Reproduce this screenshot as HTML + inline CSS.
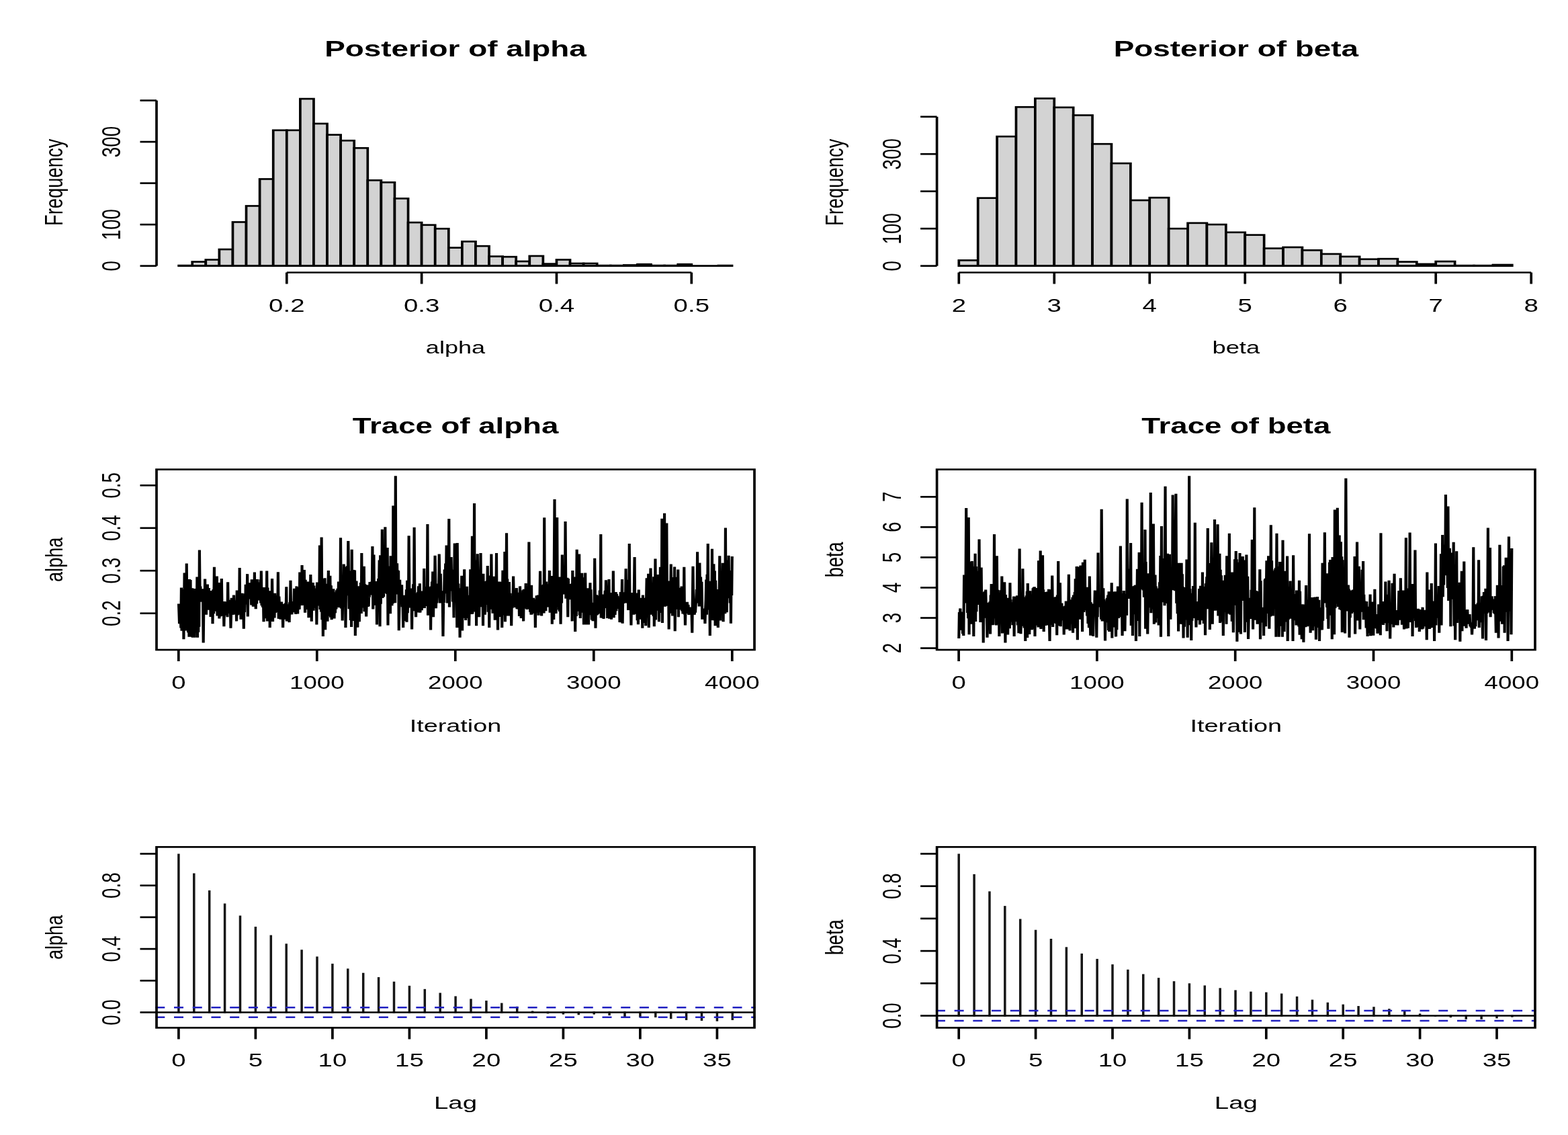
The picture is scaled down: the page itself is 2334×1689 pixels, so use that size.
<!DOCTYPE html>
<html lang="en">
<head>
<meta charset="utf-8">
<title>MCMC diagnostics: posterior, trace and autocorrelation of alpha and beta</title>
<style>
html,body{margin:0;padding:0;background:#fff;}
body{width:2334px;height:1689px;overflow:hidden;}
svg{display:block;}
text{font-family:"Liberation Sans",sans-serif;fill:#000;}
</style>
</head>
<body>
<svg width="2334" height="1689" viewBox="0 0 2334 1689">
<rect width="2334" height="1689" fill="#fff"/>
<g transform="scale(4.8625 3.51875)"><g stroke-linecap="butt">
<rect x="54.732" y="112.28" width="4.13" height="0.175" fill="#d3d3d3" stroke="#000" stroke-width="0.76"/>
<rect x="58.862" y="110.706" width="4.13" height="1.749" fill="#d3d3d3" stroke="#000" stroke-width="0.76"/>
<rect x="62.992" y="109.831" width="4.13" height="2.624" fill="#d3d3d3" stroke="#000" stroke-width="0.76"/>
<rect x="67.123" y="105.458" width="4.13" height="6.997" fill="#d3d3d3" stroke="#000" stroke-width="0.76"/>
<rect x="71.253" y="93.913" width="4.13" height="18.542" fill="#d3d3d3" stroke="#000" stroke-width="0.76"/>
<rect x="75.383" y="87.091" width="4.13" height="25.363" fill="#d3d3d3" stroke="#000" stroke-width="0.76"/>
<rect x="79.513" y="75.721" width="4.13" height="36.733" fill="#d3d3d3" stroke="#000" stroke-width="0.76"/>
<rect x="83.644" y="55.081" width="4.13" height="57.374" fill="#d3d3d3" stroke="#000" stroke-width="0.76"/>
<rect x="87.774" y="55.081" width="4.13" height="57.374" fill="#d3d3d3" stroke="#000" stroke-width="0.76"/>
<rect x="91.904" y="41.787" width="4.13" height="70.668" fill="#d3d3d3" stroke="#000" stroke-width="0.76"/>
<rect x="96.034" y="52.282" width="4.13" height="60.173" fill="#d3d3d3" stroke="#000" stroke-width="0.76"/>
<rect x="100.165" y="57.005" width="4.13" height="55.45" fill="#d3d3d3" stroke="#000" stroke-width="0.76"/>
<rect x="104.295" y="59.454" width="4.13" height="53.001" fill="#d3d3d3" stroke="#000" stroke-width="0.76"/>
<rect x="108.425" y="62.602" width="4.13" height="49.852" fill="#d3d3d3" stroke="#000" stroke-width="0.76"/>
<rect x="112.555" y="76.246" width="4.13" height="36.208" fill="#d3d3d3" stroke="#000" stroke-width="0.76"/>
<rect x="116.686" y="77.121" width="4.13" height="35.334" fill="#d3d3d3" stroke="#000" stroke-width="0.76"/>
<rect x="120.816" y="83.943" width="4.13" height="28.512" fill="#d3d3d3" stroke="#000" stroke-width="0.76"/>
<rect x="124.946" y="94.088" width="4.13" height="18.367" fill="#d3d3d3" stroke="#000" stroke-width="0.76"/>
<rect x="129.076" y="95.138" width="4.13" height="17.317" fill="#d3d3d3" stroke="#000" stroke-width="0.76"/>
<rect x="133.207" y="96.712" width="4.13" height="15.743" fill="#d3d3d3" stroke="#000" stroke-width="0.76"/>
<rect x="137.337" y="104.758" width="4.13" height="7.696" fill="#d3d3d3" stroke="#000" stroke-width="0.76"/>
<rect x="141.467" y="102.134" width="4.13" height="10.32" fill="#d3d3d3" stroke="#000" stroke-width="0.76"/>
<rect x="145.597" y="104.059" width="4.13" height="8.396" fill="#d3d3d3" stroke="#000" stroke-width="0.76"/>
<rect x="149.728" y="108.432" width="4.13" height="4.023" fill="#d3d3d3" stroke="#000" stroke-width="0.76"/>
<rect x="153.858" y="108.606" width="4.13" height="3.848" fill="#d3d3d3" stroke="#000" stroke-width="0.76"/>
<rect x="157.988" y="110.531" width="4.13" height="1.924" fill="#d3d3d3" stroke="#000" stroke-width="0.76"/>
<rect x="162.118" y="108.257" width="4.13" height="4.198" fill="#d3d3d3" stroke="#000" stroke-width="0.76"/>
<rect x="166.249" y="111.58" width="4.13" height="0.875" fill="#d3d3d3" stroke="#000" stroke-width="0.76"/>
<rect x="170.379" y="109.831" width="4.13" height="2.624" fill="#d3d3d3" stroke="#000" stroke-width="0.76"/>
<rect x="174.509" y="111.405" width="4.13" height="1.05" fill="#d3d3d3" stroke="#000" stroke-width="0.76"/>
<rect x="178.639" y="111.405" width="4.13" height="1.05" fill="#d3d3d3" stroke="#000" stroke-width="0.76"/>
<rect x="182.769" y="112.28" width="4.13" height="0.175" fill="#d3d3d3" stroke="#000" stroke-width="0.76"/>
<rect x="186.9" y="112.28" width="4.13" height="0.175" fill="#d3d3d3" stroke="#000" stroke-width="0.76"/>
<rect x="191.03" y="112.105" width="4.13" height="0.35" fill="#d3d3d3" stroke="#000" stroke-width="0.76"/>
<rect x="195.16" y="111.755" width="4.13" height="0.7" fill="#d3d3d3" stroke="#000" stroke-width="0.76"/>
<rect x="199.29" y="112.28" width="4.13" height="0.175" fill="#d3d3d3" stroke="#000" stroke-width="0.76"/>
<rect x="203.421" y="112.28" width="4.13" height="0.175" fill="#d3d3d3" stroke="#000" stroke-width="0.76"/>
<rect x="207.551" y="111.755" width="4.13" height="0.7" fill="#d3d3d3" stroke="#000" stroke-width="0.76"/>
<rect x="219.942" y="112.28" width="4.13" height="0.175" fill="#d3d3d3" stroke="#000" stroke-width="0.76"/>
<line x1="54.732" y1="112.455" x2="224.072" y2="112.455" stroke="#000" stroke-width="0.76"/>
<line x1="87.774" y1="115.24" x2="211.681" y2="115.24" stroke="#000" stroke-width="0.76"/>
<line x1="87.774" y1="115.24" x2="87.774" y2="120.071" stroke="#000" stroke-width="0.76"/>
<text transform="translate(87.774 131.837)" font-size="7.9" text-anchor="middle">0.2</text>
<line x1="129.076" y1="115.24" x2="129.076" y2="120.071" stroke="#000" stroke-width="0.76"/>
<text transform="translate(129.076 131.837)" font-size="7.9" text-anchor="middle">0.3</text>
<line x1="170.379" y1="115.24" x2="170.379" y2="120.071" stroke="#000" stroke-width="0.76"/>
<text transform="translate(170.379 131.837)" font-size="7.9" text-anchor="middle">0.4</text>
<line x1="211.681" y1="115.24" x2="211.681" y2="120.071" stroke="#000" stroke-width="0.76"/>
<text transform="translate(211.681 131.837)" font-size="7.9" text-anchor="middle">0.5</text>
<line x1="47.918" y1="112.455" x2="47.918" y2="42.487" stroke="#000" stroke-width="0.76"/>
<line x1="42.879" y1="112.455" x2="47.918" y2="112.455" stroke="#000" stroke-width="0.76"/>
<text transform="translate(36.833 112.455) rotate(-90)" font-size="7.9" text-anchor="middle">0</text>
<line x1="42.879" y1="94.963" x2="47.918" y2="94.963" stroke="#000" stroke-width="0.76"/>
<text transform="translate(36.833 94.963) rotate(-90)" font-size="7.9" text-anchor="middle">100</text>
<line x1="42.879" y1="77.471" x2="47.918" y2="77.471" stroke="#000" stroke-width="0.76"/>
<line x1="42.879" y1="59.979" x2="47.918" y2="59.979" stroke="#000" stroke-width="0.76"/>
<text transform="translate(36.833 59.979) rotate(-90)" font-size="7.9" text-anchor="middle">300</text>
<line x1="42.879" y1="42.487" x2="47.918" y2="42.487" stroke="#000" stroke-width="0.76"/>
<text transform="translate(139.434 149.485) scale(0.94 0.93)" font-size="7.9" text-anchor="middle">alpha</text>
<text transform="translate(19.157 77.115) rotate(-90) scale(0.985 0.945)" font-size="7.9" text-anchor="middle">Frequency</text>
<text transform="translate(139.434 23.815) scale(0.993 0.975)" font-size="9.5" text-anchor="middle" font-weight="bold">Posterior of alpha</text>
<rect x="293.532" y="110.089" width="5.84" height="2.366" fill="#d3d3d3" stroke="#000" stroke-width="0.76"/>
<rect x="299.372" y="83.748" width="5.84" height="28.706" fill="#d3d3d3" stroke="#000" stroke-width="0.76"/>
<rect x="305.212" y="57.724" width="5.84" height="54.731" fill="#d3d3d3" stroke="#000" stroke-width="0.76"/>
<rect x="311.052" y="45.263" width="5.84" height="67.191" fill="#d3d3d3" stroke="#000" stroke-width="0.76"/>
<rect x="316.892" y="41.636" width="5.84" height="70.819" fill="#d3d3d3" stroke="#000" stroke-width="0.76"/>
<rect x="322.732" y="45.421" width="5.84" height="67.034" fill="#d3d3d3" stroke="#000" stroke-width="0.76"/>
<rect x="328.572" y="48.733" width="5.84" height="63.721" fill="#d3d3d3" stroke="#000" stroke-width="0.76"/>
<rect x="334.412" y="60.878" width="5.84" height="51.577" fill="#d3d3d3" stroke="#000" stroke-width="0.76"/>
<rect x="340.252" y="69.08" width="5.84" height="43.375" fill="#d3d3d3" stroke="#000" stroke-width="0.76"/>
<rect x="346.092" y="84.695" width="5.84" height="27.76" fill="#d3d3d3" stroke="#000" stroke-width="0.76"/>
<rect x="351.931" y="83.591" width="5.84" height="28.864" fill="#d3d3d3" stroke="#000" stroke-width="0.76"/>
<rect x="357.771" y="96.682" width="5.84" height="15.773" fill="#d3d3d3" stroke="#000" stroke-width="0.76"/>
<rect x="363.611" y="94.316" width="5.84" height="18.139" fill="#d3d3d3" stroke="#000" stroke-width="0.76"/>
<rect x="369.451" y="94.947" width="5.84" height="17.508" fill="#d3d3d3" stroke="#000" stroke-width="0.76"/>
<rect x="375.291" y="98.259" width="5.84" height="14.195" fill="#d3d3d3" stroke="#000" stroke-width="0.76"/>
<rect x="381.131" y="99.363" width="5.84" height="13.091" fill="#d3d3d3" stroke="#000" stroke-width="0.76"/>
<rect x="386.971" y="105.042" width="5.84" height="7.413" fill="#d3d3d3" stroke="#000" stroke-width="0.76"/>
<rect x="392.811" y="104.568" width="5.84" height="7.886" fill="#d3d3d3" stroke="#000" stroke-width="0.76"/>
<rect x="398.651" y="105.83" width="5.84" height="6.625" fill="#d3d3d3" stroke="#000" stroke-width="0.76"/>
<rect x="404.491" y="107.407" width="5.84" height="5.047" fill="#d3d3d3" stroke="#000" stroke-width="0.76"/>
<rect x="410.331" y="108.512" width="5.84" height="3.943" fill="#d3d3d3" stroke="#000" stroke-width="0.76"/>
<rect x="416.171" y="109.616" width="5.84" height="2.839" fill="#d3d3d3" stroke="#000" stroke-width="0.76"/>
<rect x="422.011" y="109.458" width="5.84" height="2.997" fill="#d3d3d3" stroke="#000" stroke-width="0.76"/>
<rect x="427.851" y="110.72" width="5.84" height="1.735" fill="#d3d3d3" stroke="#000" stroke-width="0.76"/>
<rect x="433.69" y="111.666" width="5.84" height="0.789" fill="#d3d3d3" stroke="#000" stroke-width="0.76"/>
<rect x="439.53" y="110.562" width="5.84" height="1.893" fill="#d3d3d3" stroke="#000" stroke-width="0.76"/>
<rect x="445.37" y="112.297" width="5.84" height="0.158" fill="#d3d3d3" stroke="#000" stroke-width="0.76"/>
<rect x="451.21" y="112.297" width="5.84" height="0.158" fill="#d3d3d3" stroke="#000" stroke-width="0.76"/>
<rect x="457.05" y="111.982" width="5.84" height="0.473" fill="#d3d3d3" stroke="#000" stroke-width="0.76"/>
<line x1="293.532" y1="112.455" x2="462.89" y2="112.455" stroke="#000" stroke-width="0.76"/>
<line x1="293.532" y1="115.24" x2="468.73" y2="115.24" stroke="#000" stroke-width="0.76"/>
<line x1="293.532" y1="115.24" x2="293.532" y2="120.071" stroke="#000" stroke-width="0.76"/>
<text transform="translate(293.532 131.837)" font-size="7.9" text-anchor="middle">2</text>
<line x1="322.732" y1="115.24" x2="322.732" y2="120.071" stroke="#000" stroke-width="0.76"/>
<text transform="translate(322.732 131.837)" font-size="7.9" text-anchor="middle">3</text>
<line x1="351.931" y1="115.24" x2="351.931" y2="120.071" stroke="#000" stroke-width="0.76"/>
<text transform="translate(351.931 131.837)" font-size="7.9" text-anchor="middle">4</text>
<line x1="381.131" y1="115.24" x2="381.131" y2="120.071" stroke="#000" stroke-width="0.76"/>
<text transform="translate(381.131 131.837)" font-size="7.9" text-anchor="middle">5</text>
<line x1="410.331" y1="115.24" x2="410.331" y2="120.071" stroke="#000" stroke-width="0.76"/>
<text transform="translate(410.331 131.837)" font-size="7.9" text-anchor="middle">6</text>
<line x1="439.53" y1="115.24" x2="439.53" y2="120.071" stroke="#000" stroke-width="0.76"/>
<text transform="translate(439.53 131.837)" font-size="7.9" text-anchor="middle">7</text>
<line x1="468.73" y1="115.24" x2="468.73" y2="120.071" stroke="#000" stroke-width="0.76"/>
<text transform="translate(468.73 131.837)" font-size="7.9" text-anchor="middle">8</text>
<line x1="286.807" y1="112.455" x2="286.807" y2="49.364" stroke="#000" stroke-width="0.76"/>
<line x1="281.769" y1="112.455" x2="286.807" y2="112.455" stroke="#000" stroke-width="0.76"/>
<text transform="translate(275.722 112.455) rotate(-90)" font-size="7.9" text-anchor="middle">0</text>
<line x1="281.769" y1="96.682" x2="286.807" y2="96.682" stroke="#000" stroke-width="0.76"/>
<text transform="translate(275.722 96.682) rotate(-90)" font-size="7.9" text-anchor="middle">100</text>
<line x1="281.769" y1="80.909" x2="286.807" y2="80.909" stroke="#000" stroke-width="0.76"/>
<line x1="281.769" y1="65.137" x2="286.807" y2="65.137" stroke="#000" stroke-width="0.76"/>
<text transform="translate(275.722 65.137) rotate(-90)" font-size="7.9" text-anchor="middle">300</text>
<line x1="281.769" y1="49.364" x2="286.807" y2="49.364" stroke="#000" stroke-width="0.76"/>
<text transform="translate(378.365 149.485) scale(0.947 0.94)" font-size="7.9" text-anchor="middle">beta</text>
<text transform="translate(258.046 77.115) rotate(-90) scale(0.985 0.945)" font-size="7.9" text-anchor="middle">Frequency</text>
<text transform="translate(378.365 23.815) scale(0.993 0.975)" font-size="9.5" text-anchor="middle" font-weight="bold">Posterior of beta</text>
<path d="M54.71,255.33 54.92,263.81 55.04,255.95 55.17,262.88 55.26,258.82 55.38,265.59 55.51,248.55 55.64,266.76 55.72,257.60 55.85,264.70 55.93,258.31 56.02,261.01 56.15,249.23 56.23,270.35 56.48,242.31 56.57,266.55 56.70,254.63 56.82,263.60 56.91,254.10 56.99,266.74 57.12,238.30 57.29,265.66 57.42,254.55 57.59,267.46 57.71,256.42 57.88,269.37 58.01,244.97 58.14,260.73 58.31,245.27 58.43,269.36 58.56,250.30 58.69,260.35 58.86,248.72 58.98,269.61 59.15,250.69 59.28,265.91 59.45,248.92 59.58,269.61 59.75,249.15 59.87,267.55 60.04,249.28 60.17,264.72 60.34,243.98 60.47,269.61 60.59,247.26 60.72,267.34 60.81,247.12 60.93,265.08 61.06,232.62 61.23,254.56 61.36,247.99 61.48,254.49 61.61,249.62 61.74,252.90 61.87,249.03 61.99,254.00 62.12,252.23 62.25,271.83 62.42,251.55 62.59,259.36 62.75,244.84 62.88,258.27 63.01,250.84 63.14,259.99 63.26,250.78 63.39,255.17 63.52,247.13 63.60,257.81 63.73,251.40 63.86,256.54 63.94,248.69 64.03,257.94 64.15,253.54 64.28,256.83 64.36,249.78 64.49,260.88 64.58,251.93 64.70,257.93 64.79,249.93 64.87,259.41 65.00,251.37 65.09,263.81 65.25,249.33 65.42,259.52 65.59,239.78 65.72,257.52 65.85,250.87 66.02,257.57 66.14,251.38 66.27,258.57 66.40,243.73 66.53,260.44 66.61,251.95 66.74,257.12 66.82,252.00 66.91,258.77 67.03,249.09 67.12,261.59 67.25,246.38 67.42,260.72 67.54,250.36 67.71,255.16 67.84,244.72 67.97,257.47 68.14,255.39 68.26,260.52 68.43,255.68 68.56,264.92 68.73,254.35 68.86,258.37 68.98,256.39 69.11,259.22 69.24,255.66 69.36,260.22 69.49,254.53 69.62,260.97 69.75,246.20 69.87,257.88 70.00,254.74 70.13,259.48 70.25,253.74 70.38,259.20 70.51,255.97 70.63,265.66 70.89,252.86 71.06,259.97 71.27,254.25 71.44,259.99 71.57,251.64 71.69,257.25 71.82,254.60 71.95,257.51 72.03,254.98 72.16,259.82 72.29,253.95 72.41,262.70 72.54,249.66 72.67,260.20 72.80,251.87 72.96,258.37 73.09,253.13 73.22,259.94 73.35,240.18 73.47,258.74 73.60,252.80 73.73,261.96 73.85,252.29 73.98,259.36 74.11,250.89 74.28,258.61 74.45,253.34 74.62,265.91 74.74,253.30 74.87,258.92 75.00,251.00 75.13,255.63 75.21,247.16 75.34,254.20 75.46,249.93 75.59,253.33 75.72,242.74 75.85,260.73 75.97,249.67 76.10,252.82 76.18,247.41 76.31,252.73 76.44,246.45 76.61,253.36 76.78,246.76 76.95,255.91 77.07,245.04 77.20,255.85 77.37,248.27 77.50,256.56 77.63,246.06 77.79,255.43 77.92,242.00 78.05,253.55 78.18,247.75 78.30,257.52 78.43,246.71 78.60,255.31 78.73,244.97 78.85,253.92 78.98,247.08 79.11,253.95 79.23,247.84 79.32,253.22 79.45,246.26 79.57,253.14 79.70,245.06 79.83,255.05 79.96,241.41 80.12,256.11 80.25,249.95 80.42,256.83 80.55,248.82 80.72,262.95 80.89,248.42 81.01,257.56 81.14,251.34 81.31,261.51 81.44,251.88 81.57,258.03 81.69,241.41 81.82,262.70 81.95,248.54 82.07,262.61 82.24,250.65 82.37,259.02 82.50,249.90 82.62,265.42 82.75,250.72 82.88,259.09 83.05,253.17 83.17,259.33 83.30,244.67 83.51,262.84 83.64,250.97 83.77,257.26 83.90,253.75 84.02,261.34 84.15,250.89 84.28,259.18 84.40,251.82 84.53,258.63 84.66,252.54 84.74,258.94 84.87,252.23 85.00,258.71 85.12,241.91 85.29,261.70 85.42,252.21 85.59,257.67 85.72,254.77 85.89,261.96 86.18,254.47 86.31,261.04 86.48,257.04 86.61,265.42 86.78,255.40 86.90,259.15 87.07,256.61 87.20,260.69 87.37,255.11 87.50,261.93 87.67,248.17 87.79,262.70 87.92,257.02 88.05,259.78 88.17,256.15 88.30,257.74 88.43,255.60 88.56,263.19 88.68,254.72 88.81,257.95 88.94,245.46 89.06,257.62 89.23,255.86 89.36,259.86 89.49,254.35 89.61,258.62 89.78,255.16 89.91,258.96 90.08,248.89 90.21,256.46 90.38,249.95 90.50,259.71 90.80,247.93 90.93,258.71 91.01,248.40 91.14,259.62 91.27,250.91 91.39,257.80 91.52,250.17 91.65,257.67 91.78,242.00 91.94,255.22 92.16,249.58 92.33,256.04 92.45,239.04 92.58,255.96 92.66,246.76 92.79,254.71 92.92,249.93 93.00,254.07 93.13,241.02 93.38,259.12 93.51,245.18 93.64,257.75 93.77,247.34 93.89,253.72 94.02,250.86 94.15,257.31 94.27,245.95 94.49,261.21 94.61,250.60 94.74,255.50 94.83,248.51 94.95,253.93 95.08,242.99 95.38,262.82 95.50,247.19 95.67,255.30 95.80,246.40 95.97,258.23 96.10,247.68 96.22,256.28 96.35,248.83 96.48,257.10 96.56,250.93 96.69,256.66 96.82,249.67 96.94,264.18 97.07,246.28 97.20,256.22 97.32,249.08 97.49,254.55 97.62,249.55 97.75,253.05 97.88,230.65 98.00,257.76 98.13,245.47 98.30,258.78 98.43,227.19 98.60,262.06 98.72,244.76 98.89,269.12 99.06,244.99 99.27,255.98 99.44,244.47 99.57,266.34 99.70,250.02 99.78,256.25 99.91,246.87 100.04,257.75 100.12,249.98 100.25,262.82 100.54,241.26 100.67,259.42 100.80,248.49 100.93,260.51 101.05,243.49 101.22,261.08 101.35,247.62 101.52,262.08 101.69,251.52 101.90,258.06 102.07,249.04 102.32,261.59 102.45,253.68 102.62,259.29 102.75,250.43 102.92,257.64 103.04,249.58 103.21,256.85 103.34,248.89 103.51,256.50 103.64,245.95 103.89,256.90 104.02,246.49 104.15,253.42 104.27,227.44 104.44,257.33 104.65,247.06 104.82,262.45 104.95,250.52 105.12,254.32 105.25,238.55 105.42,256.64 105.63,239.82 105.80,265.42 105.97,240.38 106.14,251.87 106.26,239.33 106.43,250.61 106.60,228.80 106.86,257.52 106.98,241.42 107.11,255.80 107.20,249.80 107.32,262.33 107.45,243.46 107.58,265.17 107.70,232.38 107.83,260.56 107.96,241.98 108.09,257.23 108.21,241.02 108.38,262.60 108.59,241.11 108.76,268.87 108.89,249.64 108.98,260.36 109.10,245.71 109.23,258.83 109.36,248.81 109.48,265.33 109.61,247.87 109.74,262.51 109.86,252.01 109.99,262.95 110.12,251.53 110.29,254.90 110.42,246.38 110.59,259.43 110.71,233.86 110.84,257.01 110.97,251.59 111.05,255.84 111.18,249.27 111.31,255.23 111.43,239.54 111.56,258.65 111.69,247.05 111.81,255.85 111.98,247.30 112.11,260.73 112.41,247.43 112.53,256.64 112.66,247.77 112.83,256.49 112.96,251.45 113.08,252.58 113.21,246.13 113.34,250.53 113.47,246.74 113.64,249.62 113.76,245.95 113.89,251.62 114.02,231.04 114.19,257.64 114.44,234.60 114.57,255.95 114.69,246.36 114.82,253.26 114.99,249.34 115.12,251.95 115.25,245.82 115.37,264.18 115.50,246.51 115.67,251.04 115.80,244.72 115.97,250.99 116.13,236.86 116.30,264.92 116.43,234.79 116.56,255.39 116.73,235.27 116.86,252.56 116.98,223.86 117.11,252.95 117.28,235.60 117.45,252.41 117.58,239.63 117.74,250.87 117.91,222.85 118.04,248.39 118.13,236.48 118.25,247.70 118.38,233.15 118.46,251.24 118.59,231.64 118.76,264.43 118.89,239.44 119.02,252.40 119.10,241.87 119.23,251.71 119.35,240.64 119.48,259.52 119.61,235.09 119.74,245.92 119.86,240.96 119.99,256.16 120.12,237.79 120.24,255.26 120.37,213.86 120.50,251.83 120.63,242.84 120.71,253.69 120.84,242.62 120.96,254.97 121.09,201.28 121.22,251.35 121.35,241.80 121.43,251.16 121.56,238.22 121.64,245.92 121.77,241.16 121.90,245.90 121.98,241.38 122.11,266.65 122.40,245.21 122.53,252.97 122.70,248.41 122.83,255.40 123.00,247.31 123.13,256.69 123.29,253.26 123.42,265.42 123.63,251.75 123.76,255.62 123.89,252.29 124.01,262.62 124.14,252.25 124.27,257.38 124.40,249.33 124.52,263.07 124.65,245.46 124.78,259.26 124.90,251.46 125.03,255.37 125.16,226.60 125.37,257.02 125.50,249.34 125.62,255.79 125.71,248.84 125.84,256.93 125.96,250.26 126.09,266.16 126.22,248.79 126.39,256.26 126.51,247.04 126.68,257.32 126.81,223.00 126.98,258.39 127.15,250.78 127.32,260.97 127.45,251.20 127.57,255.57 127.66,251.63 127.79,256.89 127.91,250.40 128.00,256.24 128.12,247.88 128.21,259.04 128.29,249.34 128.42,256.60 128.51,246.73 128.63,259.08 128.76,249.93 128.89,256.91 128.97,250.12 129.10,258.13 129.23,250.91 129.40,257.16 129.52,249.95 129.69,256.18 129.82,240.40 129.95,257.22 130.07,248.77 130.20,256.31 130.33,251.21 130.50,254.54 130.62,248.09 130.75,255.88 130.88,221.66 131.01,260.23 131.09,248.12 131.22,257.84 131.34,250.02 131.43,254.55 131.51,248.58 131.64,255.01 131.77,251.53 131.85,266.40 131.98,247.93 132.11,255.33 132.23,246.00 132.36,251.98 132.49,241.68 132.66,260.97 132.83,244.00 133.00,252.90 133.17,234.97 133.46,257.27 133.59,250.68 133.76,255.05 133.89,251.13 134.01,250.25 134.14,246.81 134.31,251.99 134.44,234.35 134.73,255.05 134.86,242.62 135.03,254.53 135.16,250.35 135.33,253.88 135.45,249.90 135.62,269.12 135.79,251.46 135.92,254.94 136.09,240.89 136.22,249.47 136.39,238.30 136.51,251.04 136.68,230.65 136.94,255.05 137.11,236.98 137.28,250.59 137.44,219.39 137.57,256.77 137.74,235.93 137.95,248.46 138.12,235.59 138.29,249.92 138.46,240.91 138.59,254.50 138.76,243.32 138.93,261.22 139.18,229.79 139.31,251.38 139.48,237.01 139.61,253.27 139.77,244.22 139.90,265.42 139.99,229.66 140.16,256.64 140.33,246.81 140.45,258.49 140.62,248.74 140.79,269.61 140.96,249.15 141.17,261.43 141.34,243.49 141.51,266.73 141.64,250.29 141.77,261.01 141.89,244.88 142.02,259.88 142.15,240.77 142.27,261.38 142.44,250.34 142.57,262.33 142.70,250.72 142.82,261.43 142.95,248.01 143.08,260.60 143.21,252.25 143.33,261.08 143.46,252.80 143.59,264.68 143.76,251.75 143.88,259.16 144.01,240.80 144.18,258.30 144.31,244.10 144.43,259.74 144.56,226.70 144.65,259.58 144.77,245.53 144.90,255.14 144.99,247.11 145.07,258.76 145.20,212.88 145.32,257.93 145.45,240.03 145.58,258.05 145.71,240.49 145.83,264.68 145.96,236.91 146.04,252.94 146.17,234.23 146.34,251.84 146.51,242.56 146.68,260.97 146.85,244.26 146.98,254.37 147.15,233.86 147.27,256.72 147.44,246.71 147.57,254.30 147.74,244.24 147.87,264.68 147.95,242.61 148.08,258.38 148.16,246.46 148.25,255.42 148.37,246.51 148.46,259.99 148.59,245.84 148.71,255.76 148.80,248.93 148.93,254.53 149.05,245.59 149.14,251.93 149.26,239.29 149.43,258.85 149.60,243.43 149.77,265.42 149.90,244.03 150.03,257.68 150.15,248.56 150.28,257.44 150.41,234.35 150.58,256.51 150.70,245.85 150.87,259.37 150.96,248.24 151.09,258.44 151.21,243.75 151.30,258.86 151.38,247.78 151.51,262.22 151.68,246.94 151.81,258.08 151.98,233.86 152.10,258.01 152.27,248.41 152.40,266.40 152.65,245.95 152.78,260.89 152.95,245.98 153.08,259.88 153.25,246.22 153.37,254.80 153.54,248.17 153.67,265.42 153.92,241.19 154.01,259.47 154.14,252.66 154.22,259.81 154.31,251.63 154.43,260.17 154.52,233.35 154.64,262.95 154.77,251.02 154.94,256.23 155.07,225.47 155.20,258.43 155.32,244.87 155.45,260.48 155.58,247.89 155.75,256.92 155.87,246.14 156.04,260.47 156.17,250.89 156.30,258.99 156.42,252.52 156.55,264.68 156.68,252.44 156.81,257.18 156.89,253.13 157.02,254.48 157.14,243.73 157.31,253.94 157.53,251.13 157.70,256.90 157.82,250.29 157.99,254.44 158.12,248.67 158.25,257.55 158.37,251.77 158.50,257.60 158.58,250.61 158.71,257.60 158.84,251.69 158.97,260.60 159.18,247.93 159.30,254.08 159.39,251.01 159.52,261.48 159.64,251.26 159.77,254.74 159.86,251.14 159.98,255.38 160.11,249.61 160.24,262.70 160.36,249.20 160.53,256.57 160.66,252.14 160.83,257.36 160.96,246.69 161.08,257.17 161.21,251.21 161.34,257.76 161.47,249.83 161.59,255.93 161.68,248.11 161.80,255.76 161.93,229.17 162.06,257.50 162.19,253.04 162.31,258.80 162.44,253.83 162.57,259.99 162.69,247.43 162.78,259.92 162.91,253.33 162.99,256.82 163.08,254.83 163.20,258.84 163.29,252.86 163.41,258.02 163.54,254.59 163.63,259.39 163.75,253.46 163.88,265.42 164.01,254.59 164.13,259.09 164.26,251.88 164.35,257.21 164.47,253.38 164.60,258.76 164.73,251.63 164.85,260.23 165.02,253.20 165.19,257.04 165.36,241.51 165.49,258.79 165.66,253.64 165.79,260.48 165.91,253.82 166.04,254.95 166.13,247.39 166.25,256.05 166.38,247.19 166.51,259.30 166.63,218.90 166.76,256.31 166.93,246.87 167.06,258.38 167.23,245.95 167.35,254.46 167.48,250.26 167.61,256.74 167.74,247.06 167.82,253.59 167.95,249.47 168.07,253.22 168.20,241.26 168.37,259.08 168.54,247.75 168.67,254.81 168.84,243.55 169.01,263.94 169.13,246.66 169.26,254.77 169.39,248.85 169.51,262.05 169.77,211.15 169.90,258.31 170.07,245.83 170.19,259.49 170.32,242.47 170.40,252.40 170.53,218.80 170.66,256.26 170.74,247.92 170.87,254.18 170.96,245.68 171.08,257.87 171.21,247.25 171.29,258.63 171.42,243.98 171.63,263.94 171.80,244.84 171.93,255.05 172.10,234.60 172.23,250.28 172.35,246.19 172.48,251.35 172.61,244.69 172.73,249.23 172.82,246.10 172.95,250.45 173.07,220.53 173.24,253.16 173.37,245.50 173.54,251.68 173.67,244.36 173.84,260.97 173.96,244.70 174.13,253.42 174.26,246.94 174.39,251.98 174.47,249.30 174.60,253.57 174.73,247.51 174.85,253.48 175.02,246.81 175.15,262.70 175.28,241.26 175.45,254.55 175.62,248.86 175.74,256.14 175.91,243.96 176.08,267.14 176.25,248.77 176.42,260.57 176.59,232.38 176.72,256.18 176.84,243.10 176.93,258.41 177.06,246.06 177.18,258.56 177.31,234.35 177.44,260.17 177.52,244.03 177.65,261.47 177.82,248.55 177.99,257.91 178.16,242.37 178.33,259.12 178.54,244.22 178.71,264.18 178.88,248.61 179.00,260.48 179.17,242.25 179.30,258.78 179.39,252.33 179.51,264.18 179.60,252.88 179.72,262.32 179.85,251.60 179.94,257.07 180.02,248.71 180.15,264.18 180.32,249.17 180.49,260.07 180.66,246.45 180.74,257.66 180.87,249.28 181.00,257.94 181.08,257.20 181.17,262.14 181.29,254.84 181.50,262.62 181.67,257.68 181.89,262.57 182.05,236.08 182.31,265.66 182.44,251.98 182.52,258.97 182.65,251.62 182.73,260.15 182.86,251.92 182.99,259.80 183.07,252.81 183.20,259.49 183.33,253.08 183.50,259.35 183.62,249.68 183.79,256.11 183.92,225.96 184.00,261.29 184.13,252.49 184.22,260.99 184.30,251.75 184.43,261.36 184.51,251.38 184.81,261.71 184.94,253.96 185.06,256.66 185.23,249.77 185.36,256.01 185.49,245.34 185.66,257.19 185.78,247.85 185.95,261.47 186.12,253.19 186.25,257.17 186.42,244.97 186.55,261.70 186.63,253.24 186.76,260.39 186.84,250.66 186.93,257.33 187.05,253.01 187.14,261.96 187.27,251.94 187.39,258.79 187.48,252.88 187.60,259.15 187.73,241.39 187.90,261.20 188.11,251.75 188.28,259.99 188.54,250.40 188.66,258.40 188.79,251.16 188.92,256.61 189.05,252.02 189.21,257.45 189.34,253.13 189.47,257.13 189.60,253.16 189.72,263.19 189.98,250.40 190.10,255.72 190.23,251.16 190.32,255.04 190.44,244.97 190.57,263.69 190.70,250.86 190.87,255.21 190.99,253.00 191.16,253.46 191.29,250.49 191.46,254.88 191.59,240.52 191.71,255.05 191.80,251.91 191.93,254.18 192.01,246.90 192.10,252.87 192.22,245.18 192.31,258.01 192.43,247.74 192.52,255.70 192.65,229.91 192.82,257.34 193.03,251.81 193.20,264.43 193.37,250.64 193.49,255.93 193.62,253.24 193.75,257.94 193.87,252.19 194.00,259.99 194.26,235.59 194.38,259.65 194.51,253.63 194.64,259.67 194.76,250.77 194.85,258.55 194.98,253.38 195.10,262.38 195.23,251.34 195.36,264.06 195.53,249.41 195.65,259.79 195.78,254.97 195.91,259.47 196.04,253.14 196.16,261.95 196.29,252.85 196.42,261.29 196.54,253.27 196.67,265.66 196.80,251.63 196.93,262.38 197.05,254.00 197.18,258.45 197.31,252.83 197.43,263.45 197.56,253.23 197.69,264.68 197.98,244.47 198.11,261.05 198.24,252.46 198.37,258.86 198.49,242.66 198.62,265.42 198.79,251.22 199.00,255.22 199.17,240.28 199.47,259.99 199.59,246.63 199.72,253.89 199.89,248.64 200.02,260.58 200.14,243.93 200.27,264.92 200.40,245.67 200.48,258.72 200.61,236.33 200.74,262.16 200.82,245.46 200.95,258.28 201.08,243.29 201.16,254.45 201.29,242.99 201.46,255.56 201.59,245.12 201.75,262.95 201.88,245.02 202.01,259.19 202.14,239.79 202.26,254.98 202.39,241.66 202.52,257.35 202.64,219.30 202.77,263.44 202.90,237.91 203.03,249.95 203.15,240.89 203.28,254.17 203.41,217.07 203.58,256.53 203.75,239.04 203.92,249.49 204.08,221.27 204.21,256.27 204.34,246.56 204.51,252.34 204.64,247.06 204.76,266.16 204.89,245.70 205.02,252.80 205.14,247.39 205.27,253.83 205.40,238.55 205.57,259.36 205.69,244.09 205.86,260.48 205.99,244.52 206.12,252.70 206.25,247.04 206.37,254.97 206.50,239.75 206.63,266.90 206.75,246.74 206.88,257.65 207.01,248.28 207.18,255.44 207.30,244.05 207.43,256.84 207.56,240.89 207.69,260.97 207.81,248.57 207.98,256.31 208.11,248.64 208.24,257.88 208.36,250.84 208.53,256.12 208.66,247.93 208.79,258.50 208.91,251.76 209.04,259.59 209.17,255.48 209.30,258.42 209.42,239.78 209.55,259.88 209.63,254.81 209.76,264.43 209.89,255.77 210.02,259.41 210.10,254.82 210.23,259.42 210.35,254.59 210.52,258.62 210.69,255.73 210.86,259.99 211.03,256.91 211.24,259.89 211.41,256.81 211.58,258.91 211.71,257.63 211.88,267.64 212.13,239.54 212.30,259.56 212.43,255.97 212.60,259.99 212.73,253.90 212.85,259.08 212.98,255.93 213.11,253.20 213.24,249.28 213.36,255.05 213.49,233.36 213.62,252.73 213.70,250.10 213.83,252.80 213.96,250.87 214.04,256.51 214.17,238.05 214.34,254.46 214.51,243.99 214.63,252.26 214.80,246.06 214.97,261.96 215.10,258.09 215.27,259.11 215.40,258.38 215.57,259.71 215.69,257.31 215.82,263.69 215.95,257.52 216.07,253.56 216.20,245.11 216.33,259.99 216.46,242.91 216.58,255.80 216.71,229.91 216.84,256.51 216.96,246.08 217.09,257.88 217.22,249.72 217.34,268.87 217.47,245.75 217.60,257.48 217.73,248.80 217.85,262.30 217.98,232.13 218.11,259.58 218.23,245.11 218.36,262.40 218.49,238.49 218.66,261.30 218.79,241.39 218.95,264.68 219.04,245.46 219.21,256.74 219.34,250.68 219.51,256.16 219.63,249.26 219.80,265.42 219.97,249.46 220.14,257.17 220.31,235.09 220.52,262.45 220.65,243.53 220.82,257.26 220.95,246.33 221.12,253.15 221.24,238.05 221.41,262.95 221.54,242.04 221.67,256.31 221.84,241.06 221.96,259.51 222.09,223.24 222.22,254.21 222.34,240.89 222.47,259.00 222.60,240.54 222.73,249.76 222.81,236.88 222.94,252.97 223.06,234.97 223.19,251.26 223.32,244.51 223.49,255.02 223.62,241.29 223.74,263.69 223.87,241.58 224.00,251.77 224.12,235.34" stroke="#000" stroke-width="0.85" fill="none" stroke-linejoin="bevel"/>
<rect x="47.918" y="198.536" width="183.033" height="76.277" fill="none" stroke="#000" stroke-width="0.76"/>
<line x1="54.663" y1="274.813" x2="54.663" y2="279.645" stroke="#000" stroke-width="0.76"/>
<text transform="translate(54.663 291.183)" font-size="7.9" text-anchor="middle">0</text>
<line x1="97.028" y1="274.813" x2="97.028" y2="279.645" stroke="#000" stroke-width="0.76"/>
<text transform="translate(97.028 291.183) scale(0.955 1)" font-size="7.9" text-anchor="middle">1000</text>
<line x1="139.393" y1="274.813" x2="139.393" y2="279.645" stroke="#000" stroke-width="0.76"/>
<text transform="translate(139.393 291.183) scale(0.955 1)" font-size="7.9" text-anchor="middle">2000</text>
<line x1="181.758" y1="274.813" x2="181.758" y2="279.645" stroke="#000" stroke-width="0.76"/>
<text transform="translate(181.758 291.183) scale(0.955 1)" font-size="7.9" text-anchor="middle">3000</text>
<line x1="224.123" y1="274.813" x2="224.123" y2="279.645" stroke="#000" stroke-width="0.76"/>
<text transform="translate(224.123 291.183) scale(0.955 1)" font-size="7.9" text-anchor="middle">4000</text>
<line x1="42.879" y1="259.382" x2="47.918" y2="259.382" stroke="#000" stroke-width="0.76"/>
<text transform="translate(36.833 259.382) rotate(-90)" font-size="7.9" text-anchor="middle">0.2</text>
<line x1="42.879" y1="241.345" x2="47.918" y2="241.345" stroke="#000" stroke-width="0.76"/>
<text transform="translate(36.833 241.345) rotate(-90)" font-size="7.9" text-anchor="middle">0.3</text>
<line x1="42.879" y1="223.308" x2="47.918" y2="223.308" stroke="#000" stroke-width="0.76"/>
<text transform="translate(36.833 223.308) rotate(-90)" font-size="7.9" text-anchor="middle">0.4</text>
<line x1="42.879" y1="205.272" x2="47.918" y2="205.272" stroke="#000" stroke-width="0.76"/>
<text transform="translate(36.833 205.272) rotate(-90)" font-size="7.9" text-anchor="middle">0.5</text>
<text transform="translate(139.434 309.343) scale(0.985 0.95)" font-size="7.9" text-anchor="middle">Iteration</text>
<text transform="translate(19.157 236.675) rotate(-90) scale(0.975 0.91)" font-size="7.9" text-anchor="middle">alpha</text>
<text transform="translate(139.434 183.361) scale(0.987 0.975)" font-size="9.5" text-anchor="middle" font-weight="bold">Trace of alpha</text>
<path d="M293.53,269.98 293.66,258.89 293.83,260.05 293.96,257.31 294.04,265.45 294.17,259.77 294.30,266.48 294.38,260.51 294.46,265.88 294.59,261.81 294.72,268.02 294.80,258.79 294.97,268.87 295.14,243.13 295.31,251.02 295.44,245.08 295.61,251.37 295.78,214.85 295.90,255.05 296.03,237.34 296.16,259.19 296.24,245.00 296.37,261.50 296.50,218.80 296.67,268.38 296.75,247.38 296.88,254.34 297.00,237.54 297.09,255.60 297.17,241.32 297.30,263.94 297.55,237.31 297.72,248.85 297.89,240.13 298.06,269.12 298.23,239.56 298.36,258.82 298.53,234.11 298.65,262.89 298.78,239.61 298.91,258.66 299.04,243.16 299.12,254.32 299.25,241.48 299.37,254.41 299.50,242.93 299.63,255.79 299.75,228.06 299.88,253.96 300.01,249.53 300.14,263.19 300.39,240.03 300.52,258.58 300.64,252.48 300.77,259.65 300.90,250.43 301.02,271.83 301.15,254.88 301.32,258.45 301.45,250.08 301.62,261.36 301.74,249.41 301.91,259.22 302.04,257.57 302.21,269.61 302.46,254.84 302.59,260.84 302.72,256.46 302.89,261.25 303.01,254.43 303.14,268.13 303.27,251.68 303.35,263.73 303.48,246.94 303.61,261.52 303.69,255.75 303.82,264.35 303.90,253.82 304.03,264.19 304.16,248.64 304.24,258.85 304.37,225.96 304.50,261.53 304.62,248.15 304.71,260.59 304.83,251.86 304.96,264.43 305.17,235.09 305.30,262.03 305.47,249.45 305.60,264.08 305.76,250.61 305.89,269.12 306.06,252.95 306.23,263.37 306.36,249.61 306.53,263.64 306.70,243.73 306.82,267.88 306.95,246.46 307.08,267.51 307.25,252.48 307.37,259.45 307.50,246.20 307.75,271.83 307.88,251.53 308.01,265.52 308.14,253.89 308.26,264.87 308.39,252.86 308.52,268.44 308.64,258.77 308.77,263.26 308.94,256.11 309.07,265.79 309.19,246.45 309.32,261.13 309.40,253.51 309.53,263.00 309.66,257.41 309.79,262.66 309.87,254.73 310.00,264.33 310.12,255.65 310.21,261.82 310.34,252.25 310.46,269.12 310.59,252.28 310.72,262.90 310.84,257.34 310.97,262.26 311.10,256.58 311.22,262.62 311.35,251.88 311.52,264.47 311.69,255.44 311.86,267.76 312.11,232.03 312.24,265.30 312.37,252.24 312.49,268.06 312.62,257.51 312.75,264.37 312.83,253.17 312.96,264.79 313.09,240.52 313.26,264.54 313.43,252.49 313.55,265.54 313.72,253.81 313.89,271.09 313.98,254.43 314.10,263.34 314.19,251.85 314.27,268.03 314.40,250.02 314.48,269.69 314.61,246.69 314.78,266.83 314.95,252.87 315.12,268.25 315.33,249.90 315.46,261.93 315.54,255.76 315.67,262.40 315.80,255.90 315.88,266.38 316.01,254.19 316.13,261.22 316.22,248.77 316.35,265.91 316.47,248.28 316.56,260.63 316.68,248.17 316.81,269.12 316.94,249.96 317.07,264.54 317.19,252.45 317.32,262.93 317.45,248.65 317.57,264.20 317.70,251.79 317.83,265.29 317.95,237.07 318.08,264.14 318.21,250.04 318.38,260.42 318.50,232.87 318.63,266.03 318.80,251.29 319.01,263.22 319.18,234.85 319.31,262.24 319.39,249.31 319.52,267.14 319.65,251.66 319.77,262.58 319.86,250.38 319.99,264.59 320.11,255.35 320.20,261.54 320.32,251.43 320.45,264.43 320.58,250.25 320.71,260.99 320.83,254.88 320.92,264.31 321.04,249.16 321.34,271.09 321.51,249.28 321.64,264.23 321.81,253.76 321.93,264.14 322.10,243.39 322.31,265.17 322.44,253.60 322.57,260.65 322.69,252.60 322.82,263.53 322.91,255.31 323.03,260.06 323.16,252.47 323.29,263.74 323.41,253.31 323.54,268.63 323.67,251.69 323.84,261.48 323.96,237.31 324.09,263.55 324.22,256.92 324.39,264.67 324.51,246.46 324.68,264.92 324.81,255.50 324.90,260.78 325.02,255.09 325.15,262.28 325.28,256.44 325.45,262.36 325.57,256.46 325.70,268.38 325.83,259.25 325.95,262.86 326.08,256.21 326.21,264.95 326.33,254.22 326.46,266.12 326.59,258.42 326.72,265.98 326.84,258.13 326.97,266.16 327.18,242.89 327.31,261.89 327.39,257.07 327.52,266.69 327.65,255.08 327.77,262.36 327.86,259.08 327.98,263.18 328.11,253.60 328.20,263.77 328.32,252.58 328.45,267.64 328.62,251.69 328.83,261.91 329.00,250.40 329.09,262.57 329.21,244.74 329.30,265.70 329.38,249.23 329.51,263.88 329.59,239.54 329.85,270.60 329.97,247.65 330.06,259.04 330.19,247.35 330.31,253.89 330.40,239.70 330.52,261.96 330.78,239.17 330.95,260.16 331.16,242.48 331.33,267.14 331.50,237.81 331.58,253.11 331.71,246.56 331.79,258.92 331.88,241.45 332.01,255.96 332.09,236.67 332.22,254.87 332.34,249.98 332.51,258.18 332.64,249.64 332.77,260.48 332.94,248.33 333.06,263.75 333.23,256.55 333.36,265.50 333.53,243.73 333.83,268.75 333.95,254.73 334.08,260.31 334.25,255.68 334.38,258.60 334.50,255.33 334.63,269.06 334.80,255.77 335.01,258.74 335.18,249.66 335.35,259.57 335.52,254.05 335.69,269.61 335.86,251.58 335.98,260.93 336.15,233.74 336.28,255.97 336.41,252.26 336.53,255.11 336.66,252.50 336.79,256.78 336.92,252.32 337.08,261.93 337.21,215.35 337.42,262.70 337.55,251.63 337.63,262.11 337.76,248.72 337.85,262.29 337.97,253.42 338.10,259.60 338.19,256.12 338.31,270.97 338.44,254.21 338.57,260.28 338.65,255.94 338.78,261.21 338.90,252.86 339.03,263.26 339.16,251.67 339.33,266.59 339.45,250.15 339.58,267.14 339.71,251.96 339.88,261.09 340.00,253.99 340.17,260.86 340.30,246.45 340.43,269.86 340.56,253.26 340.72,265.26 340.85,255.50 340.98,261.52 341.11,250.23 341.27,262.59 341.40,250.15 341.61,269.24 341.74,250.77 341.87,266.36 341.95,256.17 342.08,261.28 342.21,247.93 342.42,261.47 342.54,250.90 342.67,256.85 342.76,251.75 342.88,260.93 343.01,230.90 343.18,260.68 343.39,250.91 343.56,268.87 343.73,253.26 343.86,260.99 344.03,249.78 344.15,257.21 344.24,251.55 344.36,266.90 344.49,254.32 344.62,257.22 344.79,251.15 344.91,260.28 345.04,211.03 345.17,250.78 345.30,241.05 345.42,249.90 345.55,240.75 345.68,253.20 345.85,240.60 345.97,248.23 346.14,229.66 346.27,264.60 346.40,252.08 346.48,263.40 346.61,249.87 346.73,268.87 346.86,247.92 346.99,259.79 347.12,249.67 347.24,250.96 347.37,247.69 347.50,252.70 347.62,247.43 347.75,271.09 347.88,248.86 348.05,253.25 348.17,240.63 348.30,257.02 348.43,242.16 348.60,262.56 348.72,233.61 348.85,269.12 348.98,240.61 349.10,248.25 349.27,239.58 349.40,249.26 349.53,212.51 349.65,248.37 349.82,242.86 349.95,249.62 350.08,238.20 350.21,252.56 350.29,240.21 350.42,249.60 350.54,223.98 350.67,265.91 350.76,237.62 350.88,256.10 351.01,244.69 351.09,257.12 351.18,248.17 351.31,268.13 351.56,242.50 351.69,253.26 351.77,244.53 351.90,257.01 352.02,246.14 352.11,255.37 352.24,208.31 352.36,259.25 352.49,246.49 352.66,257.60 352.79,242.63 352.96,257.61 353.08,221.52 353.29,263.94 353.42,243.12 353.55,259.21 353.63,243.11 353.76,263.29 353.89,247.95 353.97,261.44 354.10,250.33 354.23,256.67 354.35,250.70 354.48,258.44 354.56,248.82 354.69,264.43 354.99,246.20 355.11,254.45 355.24,235.03 355.37,269.37 355.58,222.50 355.71,252.61 355.83,236.17 355.96,254.67 356.13,242.79 356.26,248.91 356.38,236.93 356.51,256.16 356.72,205.72 356.85,255.22 356.93,238.64 357.06,248.05 357.19,236.69 357.27,248.28 357.40,234.11 357.70,269.12 357.78,235.36 357.91,248.13 358.03,234.39 358.12,253.37 358.20,242.07 358.33,261.96 358.46,241.20 358.59,248.16 358.75,241.52 358.88,249.58 359.01,209.30 359.14,246.47 359.26,238.43 359.43,247.74 359.56,238.33 359.69,249.87 359.98,208.83 360.15,255.13 360.28,244.44 360.45,259.55 360.57,238.67 360.74,267.02 360.87,238.05 361.00,252.75 361.12,246.42 361.29,258.25 361.42,243.66 361.55,263.94 361.67,238.05 361.80,255.12 361.93,242.75 362.01,264.04 362.14,248.17 362.27,269.86 362.39,250.73 362.56,265.08 362.69,248.36 362.86,262.15 362.99,251.32 363.16,258.03 363.28,236.57 363.54,269.61 363.71,238.70 363.88,260.26 364.04,201.28 364.17,264.35 364.30,249.03 364.43,263.52 364.55,253.85 364.68,270.85 364.81,250.90 364.93,262.55 365.02,251.12 365.15,260.19 365.27,247.80 365.40,261.47 365.53,250.66 365.70,258.72 365.82,221.02 365.95,257.91 366.03,256.07 366.16,265.29 366.29,257.05 366.42,261.30 366.54,255.28 366.67,262.23 366.80,254.35 366.97,262.30 367.13,248.99 367.30,264.18 367.52,247.76 367.60,259.21 367.73,250.83 367.81,256.49 367.90,252.79 368.02,262.37 368.11,242.00 368.24,259.94 368.36,248.07 368.49,263.71 368.57,251.12 368.70,258.42 368.83,248.81 368.95,268.63 369.12,246.76 369.25,252.04 369.42,243.94 369.55,253.22 369.72,223.37 369.84,257.52 369.97,247.27 370.10,255.86 370.22,238.13 370.35,266.28 370.52,238.57 370.69,253.09 370.86,229.42 371.16,263.94 371.28,240.06 371.41,249.34 371.58,241.34 371.71,253.38 371.83,219.69 371.96,258.29 372.09,236.75 372.17,258.18 372.30,240.11 372.43,252.49 372.51,234.66 372.64,253.29 372.76,221.76 372.93,260.48 373.06,243.22 373.23,259.50 373.36,234.11 373.48,263.44 373.61,240.93 373.74,261.57 373.86,243.37 373.99,262.98 374.08,251.35 374.20,255.63 374.33,249.24 374.46,268.87 374.58,245.46 374.71,258.87 374.84,250.94 374.96,254.72 375.05,243.20 375.18,256.79 375.30,249.22 375.43,263.94 375.56,235.09 375.68,257.78 375.81,248.01 375.94,259.63 376.06,248.65 376.19,253.00 376.32,225.61 376.45,257.24 376.53,247.78 376.66,259.99 376.78,245.12 376.91,258.80 377.00,244.35 377.12,262.83 377.25,242.00 377.55,267.51 377.72,249.98 377.88,255.52 378.01,236.51 378.18,254.06 378.35,233.02 378.48,255.96 378.56,236.50 378.69,271.34 378.82,238.25 378.94,257.54 379.07,244.95 379.15,267.34 379.28,237.77 379.41,261.77 379.54,233.86 379.83,268.13 379.96,235.61 380.09,249.36 380.17,239.87 380.30,247.81 380.42,235.34 380.59,254.06 380.72,236.89 380.85,251.93 380.93,239.40 381.06,267.39 381.23,238.71 381.40,258.94 381.57,234.60 381.74,263.06 381.95,243.77 382.12,270.23 382.37,252.86 382.50,260.43 382.63,256.45 382.71,259.62 382.84,255.28 382.96,261.76 383.05,249.46 383.18,258.35 383.30,228.18 383.56,266.16 383.73,246.56 383.85,262.26 384.02,214.61 384.15,262.25 384.28,249.78 384.40,259.15 384.53,249.84 384.66,259.51 384.78,252.36 384.91,263.94 385.08,250.09 385.21,257.57 385.38,250.18 385.50,263.60 385.67,240.77 385.80,270.35 385.93,245.60 386.05,263.07 386.18,257.82 386.35,263.29 386.48,257.97 386.60,263.21 386.73,256.81 386.86,268.87 386.94,256.82 387.07,260.65 387.20,245.11 387.28,261.98 387.37,244.63 387.49,264.92 387.75,237.07 387.87,257.36 388.00,244.68 388.17,259.44 388.30,235.09 388.55,265.91 388.72,244.28 388.89,260.72 389.06,222.01 389.19,258.57 389.31,237.10 389.44,257.88 389.57,242.67 389.69,260.48 389.82,245.32 389.95,252.71 390.03,241.39 390.16,253.74 390.29,240.78 390.37,255.62 390.50,240.13 390.62,269.37 390.84,225.61 390.96,256.73 391.09,249.25 391.26,263.53 391.39,239.58 391.51,269.37 391.81,237.56 391.98,259.81 392.11,244.32 392.28,264.79 392.40,237.61 392.57,269.37 392.70,228.43 392.83,264.41 392.99,242.98 393.12,267.14 393.38,241.51 393.50,262.99 393.59,250.34 393.71,261.15 393.84,249.03 393.93,257.94 394.05,235.19 394.18,271.09 394.31,249.19 394.39,262.09 394.52,249.16 394.65,260.58 394.77,248.16 394.86,260.69 394.98,245.68 395.11,261.69 395.20,250.96 395.32,259.02 395.45,252.25 395.58,259.80 395.66,252.12 395.79,271.09 395.91,234.85 396.04,259.61 396.17,253.23 396.30,262.36 396.42,251.22 396.55,260.25 396.68,254.82 396.80,264.43 396.93,249.66 397.06,264.40 397.18,250.80 397.35,262.22 397.48,253.31 397.61,264.98 397.73,245.46 397.86,268.50 397.95,250.00 398.07,263.02 398.20,258.36 398.28,263.34 398.37,256.91 398.50,270.30 398.67,255.58 398.79,262.47 398.92,255.65 399.05,271.59 399.22,255.67 399.34,261.95 399.51,256.77 399.64,265.22 399.81,247.56 399.94,263.50 400.10,255.60 400.23,264.92 400.36,253.65 400.49,263.90 400.57,256.98 400.70,263.60 400.82,225.71 400.95,264.55 401.04,257.61 401.16,267.64 401.29,255.76 401.42,265.43 401.50,255.69 401.63,263.21 401.76,252.62 401.88,266.63 402.01,256.13 402.14,262.44 402.26,257.03 402.39,264.90 402.52,252.50 402.64,263.01 402.73,253.79 402.86,270.48 402.98,255.62 403.15,265.44 403.28,252.37 403.41,262.01 403.53,257.32 403.66,264.57 403.79,253.74 403.91,271.09 404.04,257.59 404.17,262.08 404.34,256.94 404.46,265.74 404.59,257.24 404.72,266.40 404.85,238.05 404.97,262.54 405.06,244.09 405.18,252.88 405.31,246.32 405.40,251.11 405.52,225.12 405.65,255.05 405.78,243.45 405.90,251.91 406.07,244.05 406.20,256.80 406.33,242.50 406.45,261.76 406.54,251.05 406.67,265.91 406.79,249.32 406.88,260.23 407.00,237.79 407.09,252.22 407.22,236.75 407.34,255.49 407.43,241.62 407.55,253.61 407.64,241.92 407.77,270.35 407.93,235.59 408.10,262.99 408.27,244.30 408.44,268.38 408.61,215.54 408.74,257.20 408.87,239.29 409.04,255.36 409.16,231.15 409.29,250.68 409.42,214.75 409.63,256.65 409.75,227.54 409.88,254.39 410.01,226.33 410.14,257.79 410.26,234.02 410.39,247.07 410.47,229.12 410.60,258.06 410.73,235.39 410.86,267.39 410.98,236.82 411.07,254.24 411.19,250.15 411.28,256.99 411.41,251.14 411.53,257.98 411.62,250.50 411.74,267.88 412.00,202.26 412.21,258.50 412.38,247.86 412.55,256.73 412.72,247.43 412.84,256.31 412.93,249.11 413.06,269.61 413.18,250.52 413.31,261.27 413.44,249.66 413.56,258.26 413.69,252.02 413.82,259.49 413.94,250.74 414.07,258.16 414.20,249.42 414.33,258.89 414.45,252.90 414.58,256.48 414.71,235.34 414.83,268.13 414.96,247.71 415.09,255.14 415.17,247.40 415.30,259.52 415.43,229.17 415.55,262.45 415.72,243.05 415.85,257.13 416.02,239.54 416.31,266.16 416.44,247.96 416.61,258.79 416.74,247.60 416.87,255.50 416.99,240.93 417.16,258.17 417.29,237.31 417.42,262.08 417.54,251.45 417.67,261.46 417.80,254.23 417.97,261.84 418.09,256.14 418.22,265.54 418.35,254.35 418.64,269.12 418.81,256.53 418.98,262.19 419.11,259.25 419.28,267.69 419.45,251.38 419.57,268.94 419.66,254.68 419.79,263.33 419.91,254.58 420.00,266.40 420.08,255.02 420.21,268.11 420.34,254.50 420.42,268.75 420.55,257.99 420.72,264.37 420.84,249.16 420.97,264.70 421.10,262.52 421.18,265.73 421.31,261.04 421.44,265.84 421.56,259.78 421.69,267.88 421.82,262.92 421.90,265.80 422.03,255.57 422.11,266.60 422.24,259.04 422.37,263.93 422.45,256.10 422.58,268.63 422.71,225.47 422.79,263.86 422.92,257.16 423.04,262.23 423.13,254.59 423.21,262.90 423.34,254.35 423.47,264.31 423.59,255.99 423.72,263.51 423.89,257.85 424.02,262.01 424.14,245.95 424.27,260.17 424.44,251.47 424.57,266.90 424.70,251.70 424.82,259.71 424.95,251.77 425.08,263.41 425.20,245.46 425.33,260.49 425.41,254.95 425.54,270.11 425.67,258.05 425.80,260.98 425.92,257.78 426.05,264.04 426.22,246.63 426.35,258.42 426.47,249.42 426.60,265.29 426.85,242.60 426.98,261.69 427.07,260.56 427.19,264.33 427.28,259.40 427.40,263.30 427.53,258.38 427.62,263.42 427.74,258.05 427.87,264.43 428.00,259.85 428.12,257.78 428.25,249.78 428.38,259.57 428.50,250.11 428.63,262.21 428.76,244.47 428.89,258.19 429.01,250.16 429.18,264.23 429.31,251.93 429.44,260.10 429.56,249.66 429.82,266.16 429.94,251.51 430.07,264.69 430.15,252.89 430.28,259.62 430.41,227.44 430.54,265.88 430.66,253.35 430.79,263.39 430.92,250.12 431.04,265.66 431.21,248.78 431.42,261.49 431.59,225.22 431.72,263.19 431.81,249.48 431.93,259.79 432.06,254.10 432.14,261.29 432.27,246.94 432.40,269.12 432.57,247.72 432.74,260.78 432.86,250.30 433.03,261.53 433.20,232.62 433.33,262.59 433.41,258.86 433.54,265.42 433.67,258.34 433.79,263.31 433.88,259.11 434.01,263.25 434.13,257.43 434.26,265.14 434.39,257.98 434.51,267.14 434.64,258.72 434.77,264.34 434.94,257.77 435.06,264.76 435.19,258.93 435.32,266.16 435.49,256.81 435.61,265.87 435.78,259.82 435.91,263.63 436.04,257.97 436.21,264.93 436.33,258.11 436.46,264.83 436.63,259.57 436.76,270.60 436.88,242.00 436.97,264.19 437.10,252.91 437.18,265.04 437.27,255.49 437.39,263.87 437.48,249.41 437.60,266.03 437.73,251.59 437.86,265.58 437.94,255.92 438.07,262.04 438.20,246.69 438.37,265.42 438.49,254.24 438.62,258.88 438.70,254.64 438.83,259.67 438.96,254.32 439.09,271.09 439.21,254.30 439.34,259.77 439.47,229.76 439.59,264.47 439.72,251.49 439.85,261.36 439.97,254.80 440.06,259.22 440.19,252.48 440.31,259.46 440.44,247.80 440.57,267.64 440.69,250.21 440.78,258.16 440.91,252.08 441.03,250.15 441.12,234.28 441.24,264.43 441.37,239.28 441.46,248.89 441.58,226.21 441.71,252.43 441.84,231.20 441.96,247.38 442.09,232.43 442.17,238.23 442.30,230.31 442.43,241.01 442.56,209.17 442.68,243.32 442.81,233.36 442.94,243.04 443.02,230.25 443.15,248.65 443.28,214.11 443.44,254.06 443.53,231.90 443.66,253.00 443.78,231.86 443.87,247.79 443.95,234.49 444.08,264.92 444.21,233.78 444.33,253.45 444.46,240.24 444.59,248.67 444.71,234.57 444.84,246.84 444.97,229.27 445.14,264.72 445.31,244.96 445.48,270.60 445.60,249.45 445.77,258.27 445.90,233.12 446.03,263.47 446.15,253.22 446.24,261.04 446.36,253.02 446.49,258.76 446.58,249.61 446.70,260.44 446.83,246.32 446.96,271.34 447.13,250.54 447.30,258.35 447.47,241.51 447.59,266.90 447.72,252.50 447.85,260.05 447.93,252.62 448.06,262.29 448.18,237.46 448.31,264.79 448.44,257.88 448.61,263.14 448.74,259.81 448.86,265.66 448.99,258.94 449.07,262.74 449.20,257.80 449.37,262.94 449.54,259.97 449.71,263.94 449.88,259.76 450.05,264.91 450.22,263.23 450.34,265.38 450.47,263.98 450.60,268.38 450.77,263.63 450.89,265.25 451.06,231.39 451.19,264.24 451.27,258.28 451.40,265.91 451.53,255.58 451.70,264.94 451.82,256.75 451.95,261.92 452.12,256.10 452.25,260.25 452.37,255.01 452.54,262.38 452.67,236.82 452.80,265.42 452.93,255.06 453.05,262.62 453.18,255.01 453.26,261.06 453.39,257.19 453.52,263.25 453.64,252.12 453.90,270.11 454.03,251.95 454.15,259.49 454.28,250.37 454.41,258.53 454.53,251.74 454.66,258.32 454.79,248.92 454.91,270.85 455.04,252.87 455.17,259.49 455.30,249.33 455.38,256.72 455.51,223.24 455.59,255.17 455.72,251.82 455.85,257.03 455.93,250.22 456.01,259.03 456.14,231.64 456.27,260.97 456.40,253.43 456.52,256.65 456.69,252.15 456.82,256.64 456.95,253.38 457.07,257.98 457.20,253.48 457.33,259.33 457.50,254.94 457.62,259.65 457.75,252.12 457.96,267.64 458.09,252.38 458.26,260.76 458.38,247.43 458.51,261.71 458.60,250.45 458.72,269.86 458.85,248.20 458.98,261.60 459.10,230.40 459.27,261.19 459.40,247.55 459.57,262.80 459.70,249.15 459.87,263.94 459.99,253.10 460.12,260.14 460.20,239.49 460.33,254.94 460.46,239.11 460.59,267.64 460.71,242.37 460.88,258.23 461.01,235.83 461.14,258.84 461.26,241.35 461.35,257.75 461.47,242.01 461.60,271.09 461.90,226.95 462.02,258.54 462.19,242.08 462.32,255.28 462.49,244.94 462.62,268.38 462.79,231.88" stroke="#000" stroke-width="0.85" fill="none" stroke-linejoin="bevel"/>
<rect x="286.807" y="198.536" width="183.116" height="76.277" fill="none" stroke="#000" stroke-width="0.76"/>
<line x1="293.491" y1="274.813" x2="293.491" y2="279.645" stroke="#000" stroke-width="0.76"/>
<text transform="translate(293.491 291.183)" font-size="7.9" text-anchor="middle">0</text>
<line x1="335.815" y1="274.813" x2="335.815" y2="279.645" stroke="#000" stroke-width="0.76"/>
<text transform="translate(335.815 291.183) scale(0.955 1)" font-size="7.9" text-anchor="middle">1000</text>
<line x1="378.139" y1="274.813" x2="378.139" y2="279.645" stroke="#000" stroke-width="0.76"/>
<text transform="translate(378.139 291.183) scale(0.955 1)" font-size="7.9" text-anchor="middle">2000</text>
<line x1="420.463" y1="274.813" x2="420.463" y2="279.645" stroke="#000" stroke-width="0.76"/>
<text transform="translate(420.463 291.183) scale(0.955 1)" font-size="7.9" text-anchor="middle">3000</text>
<line x1="462.787" y1="274.813" x2="462.787" y2="279.645" stroke="#000" stroke-width="0.76"/>
<text transform="translate(462.787 291.183) scale(0.955 1)" font-size="7.9" text-anchor="middle">4000</text>
<line x1="281.769" y1="274.117" x2="286.807" y2="274.117" stroke="#000" stroke-width="0.76"/>
<text transform="translate(275.722 274.117) rotate(-90)" font-size="7.9" text-anchor="middle">2</text>
<line x1="281.769" y1="261.317" x2="286.807" y2="261.317" stroke="#000" stroke-width="0.76"/>
<text transform="translate(275.722 261.317) rotate(-90)" font-size="7.9" text-anchor="middle">3</text>
<line x1="281.769" y1="248.517" x2="286.807" y2="248.517" stroke="#000" stroke-width="0.76"/>
<text transform="translate(275.722 248.517) rotate(-90)" font-size="7.9" text-anchor="middle">4</text>
<line x1="281.769" y1="235.717" x2="286.807" y2="235.717" stroke="#000" stroke-width="0.76"/>
<text transform="translate(275.722 235.717) rotate(-90)" font-size="7.9" text-anchor="middle">5</text>
<line x1="281.769" y1="222.917" x2="286.807" y2="222.917" stroke="#000" stroke-width="0.76"/>
<text transform="translate(275.722 222.917) rotate(-90)" font-size="7.9" text-anchor="middle">6</text>
<line x1="281.769" y1="210.117" x2="286.807" y2="210.117" stroke="#000" stroke-width="0.76"/>
<text transform="translate(275.722 210.117) rotate(-90)" font-size="7.9" text-anchor="middle">7</text>
<text transform="translate(378.365 309.343) scale(0.985 0.95)" font-size="7.9" text-anchor="middle">Iteration</text>
<text transform="translate(258.046 236.675) rotate(-90) scale(0.977 0.94)" font-size="7.9" text-anchor="middle">beta</text>
<text transform="translate(378.365 183.361) scale(0.987 0.975)" font-size="9.5" text-anchor="middle" font-weight="bold">Trace of beta</text>
<line x1="54.684" y1="428.476" x2="54.684" y2="361.066" stroke="#161616" stroke-width="0.72"/>
<line x1="59.393" y1="428.476" x2="59.393" y2="369.315" stroke="#161616" stroke-width="0.72"/>
<line x1="64.103" y1="428.476" x2="64.103" y2="376.559" stroke="#161616" stroke-width="0.72"/>
<line x1="68.812" y1="428.476" x2="68.812" y2="382.125" stroke="#161616" stroke-width="0.72"/>
<line x1="73.522" y1="428.476" x2="73.522" y2="387.223" stroke="#161616" stroke-width="0.72"/>
<line x1="78.231" y1="428.476" x2="78.231" y2="391.918" stroke="#161616" stroke-width="0.72"/>
<line x1="82.941" y1="428.476" x2="82.941" y2="395.472" stroke="#161616" stroke-width="0.72"/>
<line x1="87.65" y1="428.476" x2="87.65" y2="399.094" stroke="#161616" stroke-width="0.72"/>
<line x1="92.36" y1="428.476" x2="92.36" y2="401.643" stroke="#161616" stroke-width="0.72"/>
<line x1="97.069" y1="428.476" x2="97.069" y2="404.527" stroke="#161616" stroke-width="0.72"/>
<line x1="101.779" y1="428.476" x2="101.779" y2="407.545" stroke="#161616" stroke-width="0.72"/>
<line x1="106.488" y1="428.476" x2="106.488" y2="409.624" stroke="#161616" stroke-width="0.72"/>
<line x1="111.198" y1="428.476" x2="111.198" y2="411.435" stroke="#161616" stroke-width="0.72"/>
<line x1="115.907" y1="428.476" x2="115.907" y2="413.246" stroke="#161616" stroke-width="0.72"/>
<line x1="120.617" y1="428.476" x2="120.617" y2="415.124" stroke="#161616" stroke-width="0.72"/>
<line x1="125.326" y1="428.476" x2="125.326" y2="416.867" stroke="#161616" stroke-width="0.72"/>
<line x1="130.036" y1="428.476" x2="130.036" y2="418.276" stroke="#161616" stroke-width="0.72"/>
<line x1="134.746" y1="428.476" x2="134.746" y2="419.885" stroke="#161616" stroke-width="0.72"/>
<line x1="139.455" y1="428.476" x2="139.455" y2="421.294" stroke="#161616" stroke-width="0.72"/>
<line x1="144.165" y1="428.476" x2="144.165" y2="422.434" stroke="#161616" stroke-width="0.72"/>
<line x1="148.874" y1="428.476" x2="148.874" y2="423.172" stroke="#161616" stroke-width="0.72"/>
<line x1="153.584" y1="428.476" x2="153.584" y2="424.178" stroke="#161616" stroke-width="0.72"/>
<line x1="158.293" y1="428.476" x2="158.293" y2="425.653" stroke="#161616" stroke-width="0.72"/>
<line x1="163.003" y1="428.476" x2="163.003" y2="427.531" stroke="#161616" stroke-width="0.72"/>
<line x1="167.712" y1="427.794" x2="167.712" y2="428.672" stroke="#161616" stroke-width="0.72"/>
<line x1="172.422" y1="427.794" x2="172.422" y2="429.007" stroke="#161616" stroke-width="0.72"/>
<line x1="177.131" y1="427.794" x2="177.131" y2="429.208" stroke="#161616" stroke-width="0.72"/>
<line x1="181.841" y1="427.794" x2="181.841" y2="429.007" stroke="#161616" stroke-width="0.72"/>
<line x1="186.55" y1="427.794" x2="186.55" y2="429.409" stroke="#161616" stroke-width="0.72"/>
<line x1="191.26" y1="427.794" x2="191.26" y2="430.147" stroke="#161616" stroke-width="0.72"/>
<line x1="195.969" y1="427.794" x2="195.969" y2="430.281" stroke="#161616" stroke-width="0.72"/>
<line x1="200.679" y1="427.794" x2="200.679" y2="430.281" stroke="#161616" stroke-width="0.72"/>
<line x1="205.388" y1="427.794" x2="205.388" y2="430.885" stroke="#161616" stroke-width="0.72"/>
<line x1="210.098" y1="427.794" x2="210.098" y2="431.421" stroke="#161616" stroke-width="0.72"/>
<line x1="214.807" y1="427.794" x2="214.807" y2="431.69" stroke="#161616" stroke-width="0.72"/>
<line x1="219.517" y1="427.794" x2="219.517" y2="431.891" stroke="#161616" stroke-width="0.72"/>
<line x1="224.226" y1="427.794" x2="224.226" y2="431.421" stroke="#161616" stroke-width="0.72"/>
<line x1="47.918" y1="428.135" x2="230.951" y2="428.135" stroke="#000" stroke-width="0.76"/>
<line x1="47.568" y1="426.056" x2="231.26" y2="426.056" stroke="#2020c0" stroke-width="0.74" stroke-dasharray="2.88 2.82"/>
<line x1="47.568" y1="430.214" x2="231.26" y2="430.214" stroke="#2020c0" stroke-width="0.74" stroke-dasharray="2.88 2.82"/>
<rect x="47.918" y="358.195" width="183.033" height="76.448" fill="none" stroke="#000" stroke-width="0.76"/>
<line x1="54.684" y1="434.643" x2="54.684" y2="439.474" stroke="#000" stroke-width="0.76"/>
<text transform="translate(54.684 450.984)" font-size="7.9" text-anchor="middle">0</text>
<line x1="78.231" y1="434.643" x2="78.231" y2="439.474" stroke="#000" stroke-width="0.76"/>
<text transform="translate(78.231 450.984)" font-size="7.9" text-anchor="middle">5</text>
<line x1="101.779" y1="434.643" x2="101.779" y2="439.474" stroke="#000" stroke-width="0.76"/>
<text transform="translate(101.779 450.984)" font-size="7.9" text-anchor="middle">10</text>
<line x1="125.326" y1="434.643" x2="125.326" y2="439.474" stroke="#000" stroke-width="0.76"/>
<text transform="translate(125.326 450.984)" font-size="7.9" text-anchor="middle">15</text>
<line x1="148.874" y1="434.643" x2="148.874" y2="439.474" stroke="#000" stroke-width="0.76"/>
<text transform="translate(148.874 450.984)" font-size="7.9" text-anchor="middle">20</text>
<line x1="172.422" y1="434.643" x2="172.422" y2="439.474" stroke="#000" stroke-width="0.76"/>
<text transform="translate(172.422 450.984)" font-size="7.9" text-anchor="middle">25</text>
<line x1="195.969" y1="434.643" x2="195.969" y2="439.474" stroke="#000" stroke-width="0.76"/>
<text transform="translate(195.969 450.984)" font-size="7.9" text-anchor="middle">30</text>
<line x1="219.517" y1="434.643" x2="219.517" y2="439.474" stroke="#000" stroke-width="0.76"/>
<text transform="translate(219.517 450.984)" font-size="7.9" text-anchor="middle">35</text>
<line x1="42.879" y1="428.135" x2="47.918" y2="428.135" stroke="#000" stroke-width="0.76"/>
<text transform="translate(36.833 428.135) rotate(-90)" font-size="7.9" text-anchor="middle">0.0</text>
<line x1="42.879" y1="414.721" x2="47.918" y2="414.721" stroke="#000" stroke-width="0.76"/>
<line x1="42.879" y1="401.307" x2="47.918" y2="401.307" stroke="#000" stroke-width="0.76"/>
<text transform="translate(36.833 401.307) rotate(-90)" font-size="7.9" text-anchor="middle">0.4</text>
<line x1="42.879" y1="387.893" x2="47.918" y2="387.893" stroke="#000" stroke-width="0.76"/>
<line x1="42.879" y1="374.48" x2="47.918" y2="374.48" stroke="#000" stroke-width="0.76"/>
<text transform="translate(36.833 374.48) rotate(-90)" font-size="7.9" text-anchor="middle">0.8</text>
<line x1="42.879" y1="361.066" x2="47.918" y2="361.066" stroke="#000" stroke-width="0.76"/>
<text transform="translate(139.434 468.86) scale(1 0.95)" font-size="7.9" text-anchor="middle">Lag</text>
<text transform="translate(19.157 396.419) rotate(-90) scale(0.975 0.91)" font-size="7.9" text-anchor="middle">alpha</text>
<line x1="293.512" y1="429.897" x2="293.512" y2="361.066" stroke="#161616" stroke-width="0.72"/>
<line x1="298.217" y1="429.897" x2="298.217" y2="369.695" stroke="#161616" stroke-width="0.72"/>
<line x1="302.922" y1="429.897" x2="302.922" y2="376.955" stroke="#161616" stroke-width="0.72"/>
<line x1="307.628" y1="429.897" x2="307.628" y2="383.12" stroke="#161616" stroke-width="0.72"/>
<line x1="312.333" y1="429.897" x2="312.333" y2="388.599" stroke="#161616" stroke-width="0.72"/>
<line x1="317.039" y1="429.897" x2="317.039" y2="393.256" stroke="#161616" stroke-width="0.72"/>
<line x1="321.744" y1="429.897" x2="321.744" y2="397.023" stroke="#161616" stroke-width="0.72"/>
<line x1="326.449" y1="429.897" x2="326.449" y2="400.516" stroke="#161616" stroke-width="0.72"/>
<line x1="331.155" y1="429.897" x2="331.155" y2="403.256" stroke="#161616" stroke-width="0.72"/>
<line x1="335.86" y1="429.897" x2="335.86" y2="405.516" stroke="#161616" stroke-width="0.72"/>
<line x1="340.566" y1="429.897" x2="340.566" y2="407.845" stroke="#161616" stroke-width="0.72"/>
<line x1="345.271" y1="429.897" x2="345.271" y2="410.036" stroke="#161616" stroke-width="0.72"/>
<line x1="349.976" y1="429.897" x2="349.976" y2="411.954" stroke="#161616" stroke-width="0.72"/>
<line x1="354.682" y1="429.897" x2="354.682" y2="413.529" stroke="#161616" stroke-width="0.72"/>
<line x1="359.387" y1="429.897" x2="359.387" y2="414.968" stroke="#161616" stroke-width="0.72"/>
<line x1="364.093" y1="429.897" x2="364.093" y2="415.858" stroke="#161616" stroke-width="0.72"/>
<line x1="368.798" y1="429.897" x2="368.798" y2="416.748" stroke="#161616" stroke-width="0.72"/>
<line x1="373.503" y1="429.897" x2="373.503" y2="417.844" stroke="#161616" stroke-width="0.72"/>
<line x1="378.209" y1="429.897" x2="378.209" y2="418.734" stroke="#161616" stroke-width="0.72"/>
<line x1="382.914" y1="429.897" x2="382.914" y2="419.351" stroke="#161616" stroke-width="0.72"/>
<line x1="387.62" y1="429.897" x2="387.62" y2="419.625" stroke="#161616" stroke-width="0.72"/>
<line x1="392.325" y1="429.897" x2="392.325" y2="420.173" stroke="#161616" stroke-width="0.72"/>
<line x1="397.03" y1="429.897" x2="397.03" y2="421.406" stroke="#161616" stroke-width="0.72"/>
<line x1="401.736" y1="429.897" x2="401.736" y2="422.775" stroke="#161616" stroke-width="0.72"/>
<line x1="406.441" y1="429.897" x2="406.441" y2="423.94" stroke="#161616" stroke-width="0.72"/>
<line x1="411.147" y1="429.897" x2="411.147" y2="424.762" stroke="#161616" stroke-width="0.72"/>
<line x1="415.852" y1="429.897" x2="415.852" y2="425.447" stroke="#161616" stroke-width="0.72"/>
<line x1="420.557" y1="429.897" x2="420.557" y2="425.789" stroke="#161616" stroke-width="0.72"/>
<line x1="425.263" y1="429.897" x2="425.263" y2="426.611" stroke="#161616" stroke-width="0.72"/>
<line x1="429.968" y1="429.897" x2="429.968" y2="427.707" stroke="#161616" stroke-width="0.72"/>
<line x1="434.674" y1="429.897" x2="434.674" y2="428.666" stroke="#161616" stroke-width="0.72"/>
<line x1="439.379" y1="429.897" x2="439.379" y2="429.419" stroke="#161616" stroke-width="0.72"/>
<line x1="444.084" y1="429.215" x2="444.084" y2="430.309" stroke="#161616" stroke-width="0.72"/>
<line x1="448.79" y1="429.215" x2="448.79" y2="431.063" stroke="#161616" stroke-width="0.72"/>
<line x1="453.495" y1="429.215" x2="453.495" y2="431.063" stroke="#161616" stroke-width="0.72"/>
<line x1="458.201" y1="429.215" x2="458.201" y2="430.652" stroke="#161616" stroke-width="0.72"/>
<line x1="462.906" y1="429.215" x2="462.906" y2="430.172" stroke="#161616" stroke-width="0.72"/>
<line x1="286.807" y1="429.556" x2="469.923" y2="429.556" stroke="#000" stroke-width="0.76"/>
<line x1="286.458" y1="427.433" x2="470.231" y2="427.433" stroke="#2020c0" stroke-width="0.74" stroke-dasharray="2.88 2.82"/>
<line x1="286.458" y1="431.679" x2="470.231" y2="431.679" stroke="#2020c0" stroke-width="0.74" stroke-dasharray="2.88 2.82"/>
<rect x="286.807" y="358.195" width="183.116" height="76.448" fill="none" stroke="#000" stroke-width="0.76"/>
<line x1="293.512" y1="434.643" x2="293.512" y2="439.474" stroke="#000" stroke-width="0.76"/>
<text transform="translate(293.512 450.984)" font-size="7.9" text-anchor="middle">0</text>
<line x1="317.039" y1="434.643" x2="317.039" y2="439.474" stroke="#000" stroke-width="0.76"/>
<text transform="translate(317.039 450.984)" font-size="7.9" text-anchor="middle">5</text>
<line x1="340.566" y1="434.643" x2="340.566" y2="439.474" stroke="#000" stroke-width="0.76"/>
<text transform="translate(340.566 450.984)" font-size="7.9" text-anchor="middle">10</text>
<line x1="364.093" y1="434.643" x2="364.093" y2="439.474" stroke="#000" stroke-width="0.76"/>
<text transform="translate(364.093 450.984)" font-size="7.9" text-anchor="middle">15</text>
<line x1="387.62" y1="434.643" x2="387.62" y2="439.474" stroke="#000" stroke-width="0.76"/>
<text transform="translate(387.62 450.984)" font-size="7.9" text-anchor="middle">20</text>
<line x1="411.147" y1="434.643" x2="411.147" y2="439.474" stroke="#000" stroke-width="0.76"/>
<text transform="translate(411.147 450.984)" font-size="7.9" text-anchor="middle">25</text>
<line x1="434.674" y1="434.643" x2="434.674" y2="439.474" stroke="#000" stroke-width="0.76"/>
<text transform="translate(434.674 450.984)" font-size="7.9" text-anchor="middle">30</text>
<line x1="458.201" y1="434.643" x2="458.201" y2="439.474" stroke="#000" stroke-width="0.76"/>
<text transform="translate(458.201 450.984)" font-size="7.9" text-anchor="middle">35</text>
<line x1="281.769" y1="429.556" x2="286.807" y2="429.556" stroke="#000" stroke-width="0.76"/>
<text transform="translate(275.722 429.556) rotate(-90)" font-size="7.9" text-anchor="middle">0.0</text>
<line x1="281.769" y1="415.858" x2="286.807" y2="415.858" stroke="#000" stroke-width="0.76"/>
<line x1="281.769" y1="402.16" x2="286.807" y2="402.16" stroke="#000" stroke-width="0.76"/>
<text transform="translate(275.722 402.16) rotate(-90)" font-size="7.9" text-anchor="middle">0.4</text>
<line x1="281.769" y1="388.462" x2="286.807" y2="388.462" stroke="#000" stroke-width="0.76"/>
<line x1="281.769" y1="374.764" x2="286.807" y2="374.764" stroke="#000" stroke-width="0.76"/>
<text transform="translate(275.722 374.764) rotate(-90)" font-size="7.9" text-anchor="middle">0.8</text>
<line x1="281.769" y1="361.066" x2="286.807" y2="361.066" stroke="#000" stroke-width="0.76"/>
<text transform="translate(378.365 468.86) scale(1 0.95)" font-size="7.9" text-anchor="middle">Lag</text>
<text transform="translate(258.046 396.419) rotate(-90) scale(0.977 0.94)" font-size="7.9" text-anchor="middle">beta</text>
</g></g>
</svg>
</body>
</html>
